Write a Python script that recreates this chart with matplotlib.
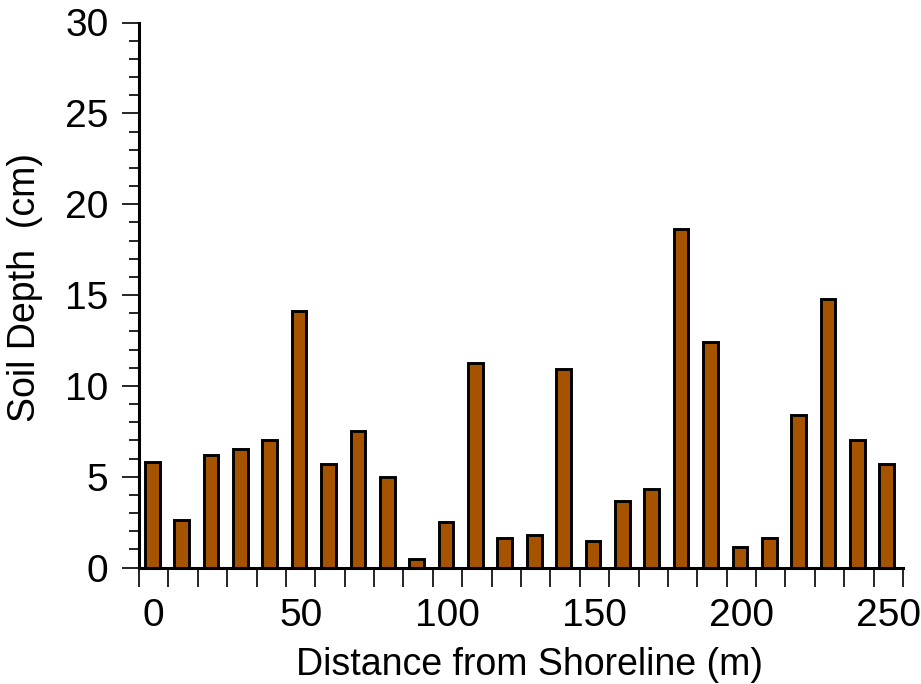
import matplotlib
matplotlib.use("Agg")
import matplotlib.pyplot as plt
import numpy as np

distance = [0, 10, 20, 30, 40, 50, 60, 70, 80, 90, 100, 110, 120, 130, 140, 150,
            160, 170, 180, 190, 200, 210, 220, 230, 240, 250]
depth = [5.82, 2.63, 6.18, 6.5, 7.0, 14.1, 5.68, 7.5, 4.97, 0.48, 2.48, 11.25,
         1.65, 1.8, 10.9, 1.48, 3.68, 4.32, 18.63, 12.4, 1.12, 1.63, 8.37, 14.78,
         7.0, 5.68]
xtick_labels = ["0", "50", "100", "150", "200", "250"]

plt.rcParams['font.family'] = ['Liberation Sans', 'DejaVu Sans']

fig = plt.figure(figsize=(9.21, 6.84), dpi=100)
ax = fig.add_axes([139/921, 1 - 567.5/684, (903-139)/921, (567.5-22.5)/684])

pos = np.arange(len(distance))
ax.bar(pos - 0.05, depth, width=0.5, color='#A65300', edgecolor='black', linewidth=2.1, zorder=3)

ax.set_xlim(-0.5, len(distance) - 0.5)
ax.set_ylim(0, 30)

for s in ['top', 'right']:
    ax.spines[s].set_visible(False)
for s in ['left', 'bottom']:
    ax.spines[s].set_linewidth(2.2)
    ax.spines[s].set_zorder(4)

# x: ticks at category boundaries, labels at every 5th category
ax.set_xticks(np.arange(len(distance) + 1) - 0.5)
ax.set_xticklabels([])
ax.tick_params(axis='x', which='major', direction='out', length=14, width=1.2)
label_pos = [i for i, d in enumerate(distance) if str(d) in xtick_labels]
ax.set_xticks(label_pos, minor=True)
ax.set_xticklabels(xtick_labels, minor=True)
ax.tick_params(axis='x', which='minor', length=0, pad=22, labelsize=28)

ax.set_yticks(np.arange(0, 31, 5))
ax.set_yticks(np.arange(0, 31, 1), minor=True)
ax.tick_params(axis='y', which='major', direction='out', length=12, width=1.2, labelsize=28, pad=10)
ax.tick_params(axis='y', which='minor', direction='out', length=7, width=1.2)

ax.set_xlabel('Distance from Shoreline (m)', fontsize=27)
ax.set_ylabel('Soil Depth  (cm)', fontsize=27)
ax.xaxis.set_label_coords(0.511, -0.145)
ax.yaxis.set_label_coords(-0.126, 0.514)

fig.savefig('out.png', dpi=100)
